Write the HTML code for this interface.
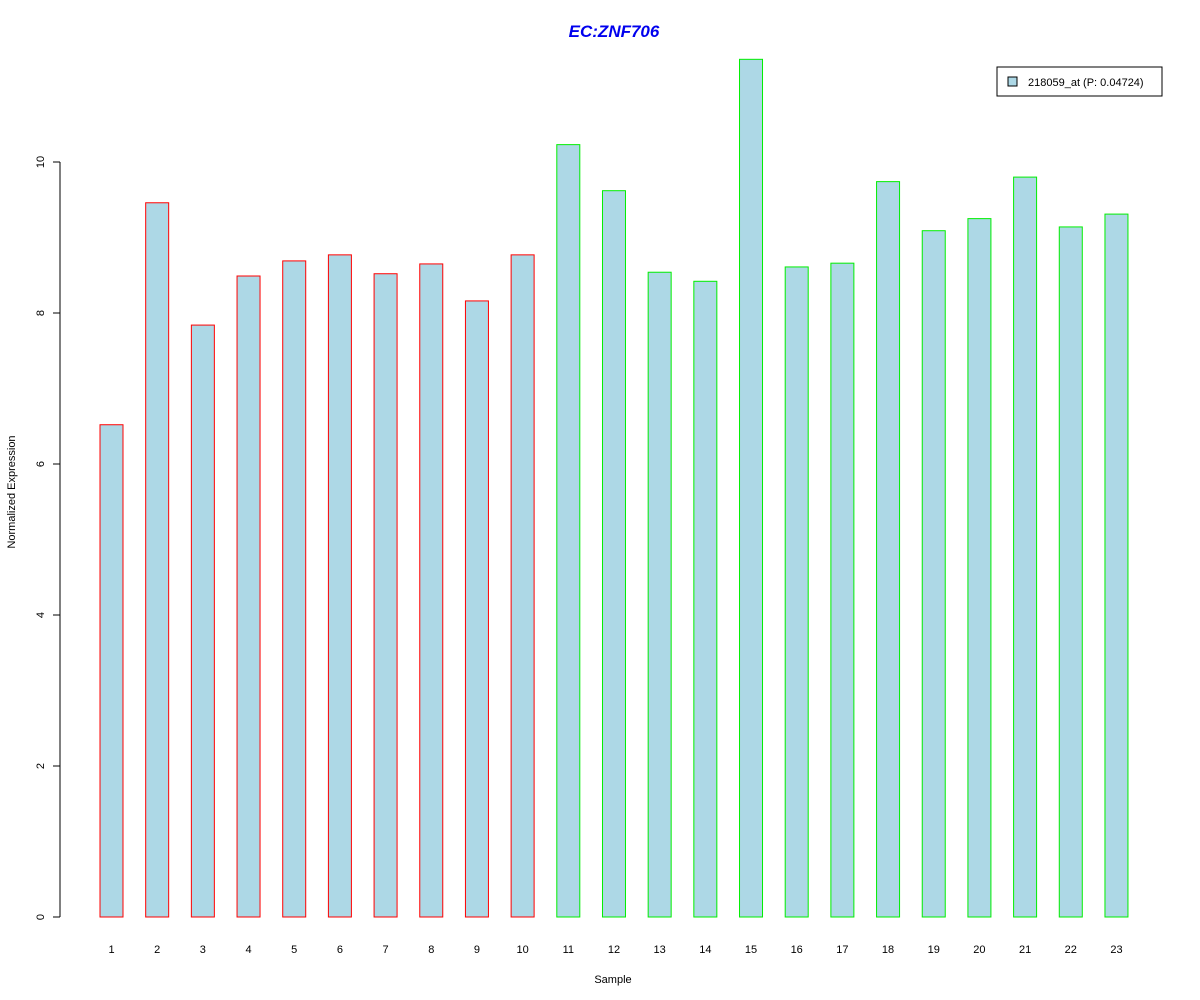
<!DOCTYPE html>
<html><head><meta charset="utf-8"><style>
body{margin:0;background:#fff;}
svg{display:block;font-family:"Liberation Sans",Arial,sans-serif;}
</style></head><body>
<svg id="chart" width="1200" height="1000">
<text x="614" y="37" text-anchor="middle" font-size="17" font-weight="bold" font-style="italic" fill="#0000ee">EC:ZNF706</text>
<text x="613" y="983" text-anchor="middle" font-size="11">Sample</text>
<text transform="translate(15,492) rotate(-90)" text-anchor="middle" font-size="11">Normalized Expression</text>
<g id="yaxis"></g>
<g id="bars"></g>
<g id="xlabels"></g>
<g>
<rect x="997" y="67" width="165" height="29" fill="#fff" stroke="#000"/>
<rect x="1008" y="77" width="9" height="9" fill="#add8e6" stroke="#000"/>
<text x="1028" y="86" font-size="11">218059_at (P: 0.04724)</text>
</g>
</svg>
<script>
const categories = ["1","2","3","4","5","6","7","8","9","10","11","12","13","14","15","16","17","18","19","20","21","22","23"];
const values = [6.52,9.46,7.84,8.49,8.69,8.77,8.52,8.65,8.16,8.77,10.23,9.62,8.54,8.42,11.36,8.61,8.66,9.74,9.09,9.25,9.80,9.14,9.31];
const groups = ["a","a","a","a","a","a","a","a","a","a","b","b","b","b","b","b","b","b","b","b","b","b","b"];
const yTicks = [0,2,4,6,8,10];
const NS="http://www.w3.org/2000/svg";
const y = v => 917 - v*75.5;
const x = i => 111.5 + i*45.68;
const bw = 23;
const yaxis=document.getElementById('yaxis');
let l=document.createElementNS(NS,'line');
l.setAttribute('x1',60);l.setAttribute('x2',60);l.setAttribute('y1',y(0));l.setAttribute('y2',y(10));l.setAttribute('stroke','#000');


yaxis.appendChild(l);
yTicks.forEach(t=>{
 const tk=document.createElementNS(NS,'line');
 tk.setAttribute('x1',53);tk.setAttribute('x2',60);tk.setAttribute('y1',y(t));tk.setAttribute('y2',y(t));tk.setAttribute('stroke','#000');
 
 
 yaxis.appendChild(tk);
 const tx=document.createElementNS(NS,'text');
 tx.setAttribute('transform',`translate(44,${y(t)}) rotate(-90)`);tx.setAttribute('text-anchor','middle');tx.setAttribute('font-size','11');
 tx.textContent=t;
 
 
 yaxis.appendChild(tx);
});
const bars=document.getElementById('bars'), xl=document.getElementById('xlabels');
values.forEach((v,i)=>{
 const r=document.createElementNS(NS,'rect');
 r.setAttribute('x',x(i)-bw/2);r.setAttribute('y',y(v));r.setAttribute('width',bw);r.setAttribute('height',y(0)-y(v));
 r.setAttribute('fill','#add8e6');r.setAttribute('stroke',groups[i]==='a'?'#ff0000':'#00ee00');
 
 
 bars.appendChild(r);
 const t=document.createElementNS(NS,'text');
 t.setAttribute('x',x(i));t.setAttribute('y',953);t.setAttribute('text-anchor','middle');t.setAttribute('font-size','11');
 t.textContent=categories[i];
 
 
 xl.appendChild(t);
});
</script>
</body></html>
